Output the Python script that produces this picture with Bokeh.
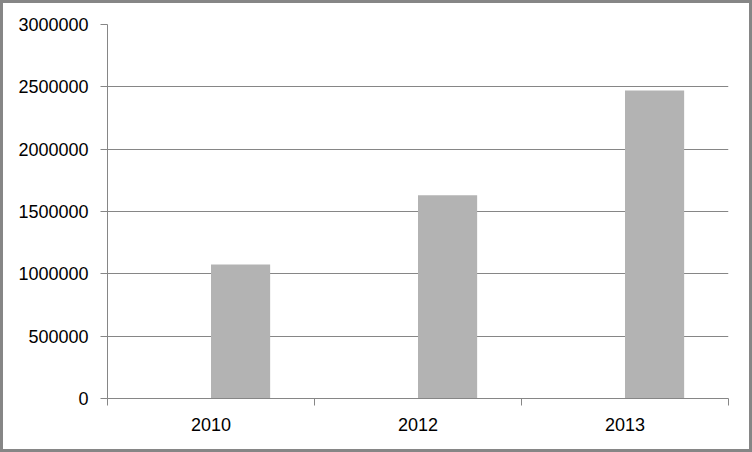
from bokeh.plotting import figure
from bokeh.models import ColumnDataSource, FixedTicker, Range1d
from bokeh.transform import dodge
from bokeh.embed import file_html
from bokeh.resources import INLINE

categories = ["2010", "2012", "2013"]
values = [1075000, 1630000, 2470000]
y_ticks = [0, 500000, 1000000, 1500000, 2000000, 2500000, 3000000]
y_tick_labels = ["0", "500000", "1000000", "1500000", "2000000", "2500000", "3000000"]

n = len(categories)
pos = [i + 0.5 for i in range(n)]
bar_w = 1 / 3.5
src = ColumnDataSource(dict(x=pos, top=values))

p = figure(width=752, height=452, output_backend="svg", toolbar_location=None,
           x_range=Range1d(0, n), y_range=Range1d(0, 3000000),
           min_border_left=104, min_border_right=27, min_border_top=21, min_border_bottom=57)
p.styles = {"border": "3px solid #868686"}
p.outline_line_color = None
p.background_fill_color = "white"
p.border_fill_color = "white"

p.vbar(x=dodge("x", bar_w / 2, range=p.x_range), top="top", bottom=0, width=bar_w,
       source=src, fill_color="#b3b3b3", line_color=None)

FONT = "Liberation Sans"
# y axis
p.yaxis.ticker = FixedTicker(ticks=y_ticks)
p.yaxis.major_label_overrides = {t: l for t, l in zip(y_ticks, y_tick_labels)}
p.yaxis.axis_line_color = "#868686"
p.yaxis.major_tick_line_color = "#868686"
p.yaxis.major_tick_out = 7
p.yaxis.major_tick_in = 0
p.yaxis.minor_tick_line_color = None
p.yaxis.major_label_standoff = 12
p.yaxis.major_label_text_font = FONT
p.yaxis.major_label_text_font_size = "18px"
p.yaxis.major_label_text_color = "#000000"

# x axis
p.xaxis.ticker = FixedTicker(ticks=pos, minor_ticks=list(range(n + 1)))
p.xaxis.major_label_overrides = {x: c for x, c in zip(pos, categories)}
p.xaxis.axis_line_color = "#868686"
p.xaxis.major_tick_line_color = None
p.xaxis.major_tick_out = 0
p.xaxis.major_tick_in = 0
p.xaxis.minor_tick_line_color = "#868686"
p.xaxis.minor_tick_out = 7
p.xaxis.minor_tick_in = 0
p.xaxis.major_label_standoff = 12
p.xaxis.major_label_text_font = FONT
p.xaxis.major_label_text_font_size = "18px"
p.xaxis.major_label_text_color = "#000000"

p.xgrid.grid_line_color = None
p.ygrid.ticker = FixedTicker(ticks=y_ticks)
p.ygrid.grid_line_color = "#868686"

open("out.html", "w").write(file_html(p, INLINE))
